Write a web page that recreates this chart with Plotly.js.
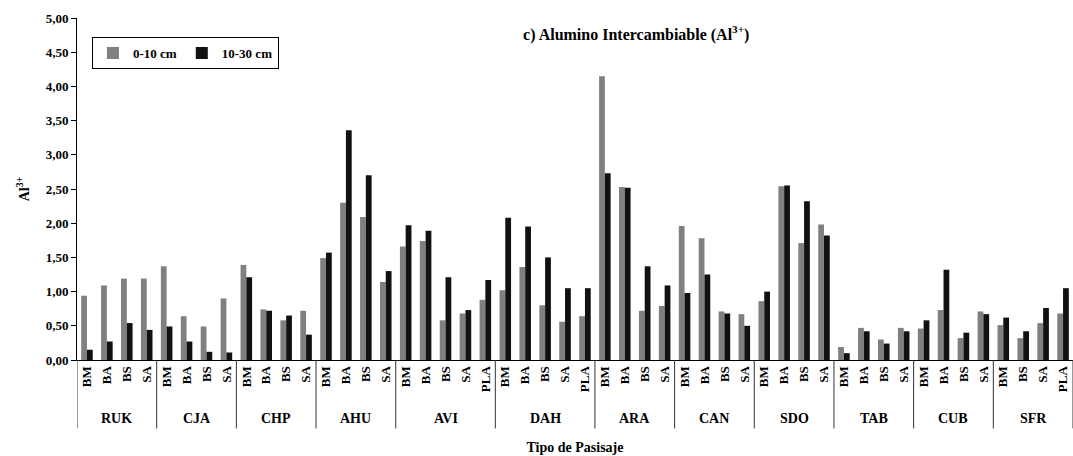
<!DOCTYPE html>
<html>
<head>
<meta charset="utf-8">
<script src="https://cdn.plot.ly/plotly-3.0.1.min.js"></script>
<style>html,body{margin:0;padding:0;background:#fff;overflow:hidden;}#chart{width:1073px;height:456px;}</style>
</head>
<body>
<div id="chart"></div>
<script>
const groups = ["RUK","RUK","RUK","RUK","CJA","CJA","CJA","CJA","CHP","CHP","CHP","CHP","AHU","AHU","AHU","AHU",
  "AVI","AVI","AVI","AVI","AVI","DAH","DAH","DAH","DAH","DAH","ARA","ARA","ARA","ARA","CAN","CAN","CAN","CAN",
  "SDO","SDO","SDO","SDO","TAB","TAB","TAB","TAB","CUB","CUB","CUB","CUB","SFR","SFR","SFR","SFR"];
const subcats = ["BM","BA","BS","SA","BM","BA","BS","SA","BM","BA","BS","SA","BM","BA","BS","SA",
  "BM","BA","BS","SA","PLA","BM","BA","BS","SA","PLA","BM","BA","BS","SA","BM","BA","BS","SA",
  "BM","BA","BS","SA","BM","BA","BS","SA","BM","BA","BS","SA","BM","BS","SA","PLA"];
const depth0_10 = [0.94,1.09,1.19,1.19, 1.37,0.64,0.49,0.90, 1.39,0.74,0.58,0.72, 1.49,2.30,2.09,1.14,
  1.66,1.74,0.58,0.68,0.88, 1.02,1.36,0.80,0.56,0.64, 4.15,2.53,0.72,0.79, 1.96,1.78,0.71,0.67,
  0.86,2.54,1.71,1.98, 0.19,0.47,0.30,0.47, 0.46,0.73,0.32,0.71, 0.51,0.32,0.54,0.68];
const depth10_30 = [0.15,0.27,0.54,0.44, 0.49,0.27,0.12,0.11, 1.21,0.72,0.65,0.37, 1.57,3.36,2.70,1.30,
  1.97,1.89,1.21,0.73,1.17, 2.08,1.95,1.50,1.05,1.05, 2.73,2.52,1.37,1.09, 0.98,1.25,0.68,0.50,
  1.00,2.55,2.32,1.82, 0.10,0.42,0.24,0.42, 0.58,1.32,0.40,0.67, 0.62,0.42,0.76,1.05];
const seriesNames = ["0-10 cm","10-30 cm"];
const yTickVals = [0,0.5,1,1.5,2,2.5,3,3.5,4,4.5,5];

const FONT = "Liberation Serif";
const idx = subcats.map((_, i) => i);

// group spans derived from the groups array
const groupSpans = [];
groups.forEach((g, i) => {
  const last = groupSpans[groupSpans.length - 1];
  if (last && last.name === g) last.end = i; else groupSpans.push({name: g, start: i, end: i});
});
const annotations = groupSpans.map(s => ({
  x: (s.start + s.end) / 2, xref: "x", y: -0.17, yref: "paper", yanchor: "middle",
  text: "<b>" + s.name + "</b>", showarrow: false,
  font: {family: FONT, size: 14, color: "#000"}
}));
const bounds = groupSpans.map(s => s.start - 0.5).concat([groupSpans[groupSpans.length - 1].end + 0.5]);
const shapes = bounds.map(b => ({
  type: "line", xref: "x", yref: "paper", x0: b, x1: b, y0: 0, y1: -0.2,
  line: {color: "#333", width: 1}
}));

const data = [
  {type:"bar", name:seriesNames[0], x:idx, y:depth0_10, marker:{color:"#808080"}},
  {type:"bar", name:seriesNames[1], x:idx, y:depth10_30, marker:{color:"#111111"}}
];
const layout = {
  width:1073, height:456,
  margin:{l:77, r:0, t:18, b:96},
  paper_bgcolor:"#fff", plot_bgcolor:"#fff",
  separators:",.",
  font:{family:FONT, color:"#000", size:12},
  barmode:"group", bargap:0.42, bargroupgap:0,
  title:{text:"<b>c) Alumino Intercambiable (Al<sup>3+</sup>)</b>", font:{family:FONT, size:16, color:"#000"},
    x:0.5615, xref:"paper", xanchor:"center", y:0.925, yref:"container", yanchor:"middle"},
  showlegend:true,
  legend:{orientation:"h", x:0.015, y:0.944, xanchor:"left", yanchor:"top",
    bordercolor:"#000", borderwidth:1, bgcolor:"#fff",
    font:{family:FONT, size:13, color:"#000", weight:"bold"}, itemwidth:30, traceorder:"normal"},
  annotations: annotations,
  shapes: shapes,
  xaxis:{type:"linear", range:[-0.5, 49.5], showline:true, linecolor:"#000", linewidth:1,
    tickmode:"array", tickvals:idx, ticktext:subcats,
    ticks:"", showgrid:false, zeroline:false,
    tickangle:-90, tickfont:{family:FONT, size:13, color:"#000", weight:"bold"},
    automargin:false,
    title:{text:"<b>Tipo de Pasisaje</b>", font:{family:FONT, size:14, color:"#000"}, standoff:50}},
  yaxis:{range:[0,5], tickvals:yTickVals, tickformat:".2f", showline:true, linecolor:"#000", linewidth:1,
    ticks:"outside", ticklen:5, tickcolor:"#000", showgrid:false, zeroline:false,
    tickfont:{family:FONT, size:13, color:"#000", weight:"bold"},
    automargin:false,
    title:{text:"<b>Al<sup>3+</sup></b>", font:{family:FONT, size:14, color:"#000"}, standoff:12}}
};
Plotly.newPlot("chart", data, layout, {displayModeBar:false, staticPlot:true});
</script>
</body>
</html>
